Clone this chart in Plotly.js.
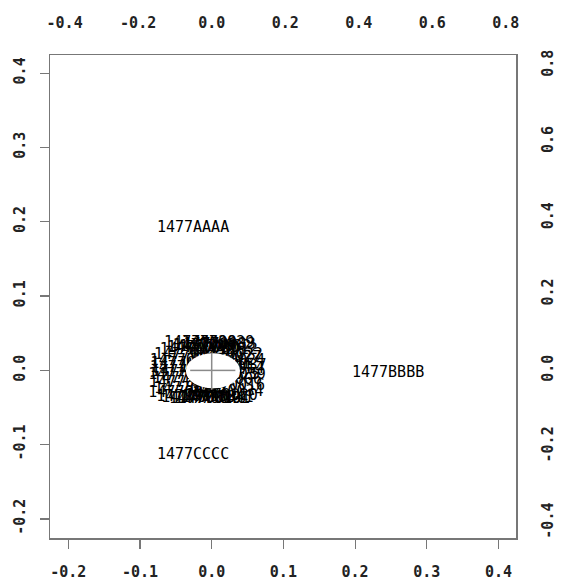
<!DOCTYPE html>
<html>
<head>
<meta charset="utf-8">
<script src="https://cdn.plot.ly/plotly-3.0.1.min.js"></script>
<style>html,body{margin:0;padding:0;background:#fff;}#chart{width:561px;height:582px;}</style>
</head>
<body>
<div id="chart"></div>
<script>
// Observation scores (first coordinate system, bottom/left axes)
const mainLabels = ["1477AAAA", "1477BBBB", "1477CCCC"];
const mainX = [-0.026, 0.246, -0.026];
const mainY = [0.191, -0.004, -0.114];

// Dense cluster of labels around the origin
const clusterLabels = [
  "14770036","14770030","14770032","14770012","14770021","14770017",
  "14770022","14770009","14770024","14770003","14770004","14770014",
  "14770011","14770006","14770015","14770016","14770027","14770018",
  "14770019","14770101","14770020","14770028","14770029","14770023",
  "14770025","14770026","14770027","14770031","14770033","14770034",
  "14770035","14770037","14770038","14770039","14770040","14770041"
];
const clusterX = [
  -0.004,-0.012, 0.005, 0.014,-0.022,-0.030,
   0.021,-0.036, 0.024,-0.036, 0.005, 0.023,
  -0.038, 0.020,-0.037, 0.024,-0.038,-0.027,
  -0.009, 0.003, 0.014,-0.016, 0.009,-0.030,
   0.017,-0.032, 0.019,-0.020, 0.011, 0.022,
  -0.035, 0.026,-0.034, 0.025,-0.002, 0.008
];
const clusterY = [
   0.032, 0.030, 0.031, 0.027, 0.027, 0.020,
   0.020, 0.012, 0.012, 0.003, 0.004, 0.001,
  -0.007,-0.013,-0.017,-0.021,-0.031,-0.036,
  -0.039,-0.039,-0.035, 0.036, 0.036,-0.026,
  -0.007,-0.012, 0.017,-0.038, 0.034,-0.030,
   0.008, 0.006,-0.003,-0.006,-0.039,-0.037
];

// Loading arrows (drawn from the origin) and the blank area they sit in
const arrowX = [0.033, -0.030, 0.000, 0.000];
const arrowY = [0.000, 0.000, 0.024, -0.026];
const blankX = [-0.036, 0.0395];
const blankY = [-0.024, 0.023];

// Axes
const axisRange = [-0.2255, 0.4244];
const loadRatio = 1.95;
const bottomTicks = [-0.2, -0.1, 0.0, 0.1, 0.2, 0.3, 0.4];
const bottomText = ["-0.2", "-0.1", "0.0", "0.1", "0.2", "0.3", "0.4"];
const leftTicks = [-0.2, -0.1, 0.0, 0.1, 0.2, 0.3, 0.4];
const leftText = ["-0.2", "-0.1", "0.0", "0.1", "0.2", "0.3", "0.4"];
const topTicks = [-0.4, -0.2, 0.0, 0.2, 0.4, 0.6, 0.8];
const topText = ["-0.4", "-0.2", "0.0", "0.2", "0.4", "0.6", "0.8"];
const rightTicks = [-0.4, -0.2, 0.0, 0.2, 0.4, 0.6, 0.8];
const rightText = ["-0.4", "-0.2", "0.0", "0.2", "0.4", "0.6", "0.8"];

const FONT = "DejaVu Sans Mono, monospace";
const tickFont = {family: FONT, size: 15, color: "#222", weight: "bold"};
const labelFont = {family: FONT, size: 15, color: "#000"};

const traces = [
  {
    x: clusterX, y: clusterY, text: clusterLabels, mode: "text", type: "scatter",
    textfont: labelFont, hoverinfo: "none", showlegend: false
  },
  {
    x: mainX, y: mainY, text: mainLabels, mode: "text", type: "scatter",
    textfont: labelFont, hoverinfo: "none", showlegend: false
  },
  {
    x: [0], y: [0], xaxis: "x2", yaxis: "y2", mode: "markers",
    marker: {opacity: 0}, hoverinfo: "none", showlegend: false
  }
];

const shapes = [{
  type: "circle", xref: "x", yref: "y",
  x0: blankX[0], x1: blankX[1], y0: blankY[0], y1: blankY[1],
  fillcolor: "#fff", line: {width: 0}, layer: "above"
}];
for (let i = 0; i < arrowX.length; i++) {
  shapes.push({
    type: "line", xref: "x", yref: "y", x0: 0, y0: 0, x1: arrowX[i], y1: arrowY[i],
    line: {color: "#8a8a8a", width: 1.5}, layer: "above"
  });
}

const layout = {
  width: 561, height: 582,
  margin: {l: 50, r: 45, t: 55, b: 44},
  paper_bgcolor: "#fff", plot_bgcolor: "#fff",
  showlegend: false,
  xaxis: {
    range: axisRange, tickvals: bottomTicks, ticktext: bottomText,
    ticks: "outside", ticklen: 9, tickwidth: 1.2, tickcolor: "#777",
    showline: true, mirror: true, linecolor: "#777", linewidth: 1.5,
    showgrid: false, zeroline: false, tickfont: tickFont, ticklabelstandoff: 10
  },
  yaxis: {
    range: axisRange, tickvals: leftTicks, ticktext: leftText, tickangle: -90,
    ticks: "outside", ticklen: 9, tickwidth: 1.2, tickcolor: "#777",
    showline: true, mirror: true, linecolor: "#777", linewidth: 1.5,
    showgrid: false, zeroline: false, tickfont: tickFont, ticklabelstandoff: 9
  },
  xaxis2: {
    overlaying: "x", side: "top",
    range: [axisRange[0] * loadRatio, axisRange[1] * loadRatio],
    tickvals: topTicks, ticktext: topText, ticks: "",
    showline: false, showgrid: false, zeroline: false, tickfont: tickFont, ticklabelstandoff: 23
  },
  yaxis2: {
    overlaying: "y", side: "right",
    range: [axisRange[0] * loadRatio, axisRange[1] * loadRatio],
    tickvals: rightTicks, ticktext: rightText, ticks: "", tickangle: -90,
    showline: false, showgrid: false, zeroline: false, tickfont: tickFont, ticklabelstandoff: 21
  },
  shapes: shapes
};

Plotly.newPlot("chart", traces, layout, {staticPlot: true, displayModeBar: false});
</script>
</body>
</html>
